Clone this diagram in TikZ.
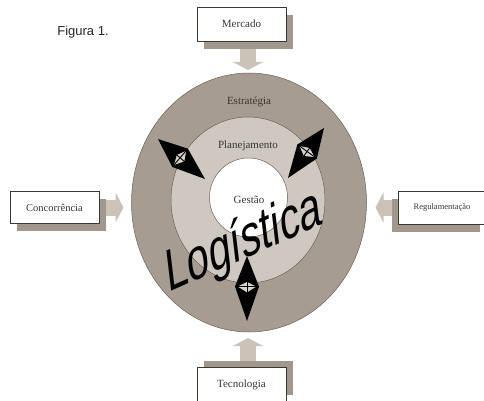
\documentclass[tikz,border=0pt]{standalone}
\usepackage{fontspec}
\setmainfont{Liberation Serif}
\newfontfamily\arialf{Liberation Sans}
\usetikzlibrary{shapes.geometric,arrows.meta,calc,shadows}
\definecolor{outerc}{HTML}{A69C91}
\definecolor{midc}{HTML}{CFC8C0}
\definecolor{shadc}{HTML}{A2978C}
\definecolor{barrc}{HTML}{CBC2B8}
\definecolor{linec}{HTML}{6A625A}
\definecolor{txtc}{HTML}{3A3632}
\definecolor{hollowc}{HTML}{D8D2CC}
\newcommand\dblarrow[2]{%
  \fill[black] (#1) -- ($(#1)!0.47!(#2)!12pt!90:(#2)$) -- (#2) -- ($(#1)!0.47!(#2)!12pt!-90:(#2)$) -- cycle;
  \filldraw[fill=hollowc, draw=black, line width=0.9pt] ($(#1)!0.39!(#2)$) -- ($(#1)!0.47!(#2)!10.5pt!90:(#2)$) -- ($(#1)!0.57!(#2)$) -- ($(#1)!0.47!(#2)!10.5pt!-90:(#2)$) -- cycle;
  \draw[black, line width=0.9pt] ($(#1)!0.39!(#2)$) -- ($(#1)!0.57!(#2)$) ($(#1)!0.47!(#2)!10.5pt!90:(#2)$) -- ($(#1)!0.47!(#2)!10.5pt!-90:(#2)$);
}
\begin{document}
\begin{tikzpicture}[x=1pt,y=-1pt,
  box/.style={draw=txtc, line width=0.6pt, fill=white, minimum width=89pt, minimum height=34pt, inner sep=0pt, outer sep=0pt, font=\fontsize{11}{12}\selectfont, text=txtc},
  ring/.style={ellipse, draw=linec, line width=0.5pt, inner sep=0pt, outer sep=0pt},
  barrow/.style={draw=barrc, line width=16pt, -{Triangle[width=30pt,length=8pt]}},
  lbl/.style={font=\fontsize{11}{12}\selectfont, text=txtc, inner sep=0pt}]
\useasboundingbox (0,0) rectangle (484,401);

\node[font=\arialf\fontsize{13}{14}\selectfont, text=black!85, inner sep=0pt] (fig) at (83,32) {Figura 1.};

% boxes
\node[box, drop shadow={shadow xshift=7pt, shadow yshift=-8pt, fill=shadc, opacity=1}] (mercado) at (241.5,24) {Mercado};
\node[box, drop shadow={shadow xshift=7pt, shadow yshift=7pt, fill=shadc, opacity=1}] (tecnologia) at (241.5,384.5) {Tecnologia};
\node[box, minimum height=32pt, font=\fontsize{10.5}{12}\selectfont, drop shadow={shadow xshift=7pt, shadow yshift=-7pt, fill=shadc, opacity=1}] (concorrencia) at (54.5,207.5) {Concorrência};
\node[box, minimum width=88pt, minimum height=33pt, font=\fontsize{8.5}{10}\selectfont, drop shadow={shadow xshift=-6pt, shadow yshift=-8pt, fill=shadc, opacity=1}] (regul) at (442,207.5) {Regulamentação};

% rings
\node[ring, fill=outerc, minimum width=235pt, minimum height=259pt] (outer) at (249,202.5) {};
\node[ring, fill=midc, minimum width=154pt, minimum height=166pt] (middle) at (248,200) {};
\node[ring, fill=white, minimum width=78pt, minimum height=79pt] (inner) at (248.5,197.5) {};

% block arrows
\draw[barrow] ([xshift=6.5pt,yshift=-8pt]mercado.south) -- ([xshift=-1pt,yshift=3pt]outer.north);
\draw[barrow] ([xshift=6.5pt,yshift=7pt]tecnologia.north) -- ([xshift=-1pt,yshift=-6pt]outer.south);
\draw[barrow] ([xshift=7pt]concorrencia.east) -- ([xshift=-8pt,yshift=-5pt]outer.west);
\draw[barrow] ([xshift=-6pt]regul.west) -- ([xshift=9pt,yshift=-5pt]outer.east);

% labels
\node[lbl] (estr) at (249,102) {Estratégia};
\node[lbl] (plan) at (248,146) {Planejamento};
\node[lbl] (gest) at (249,200) {Gestão};

% Logistica
\node[font=\arialf\fontsize{41}{41}\selectfont, text=black, anchor=base west, inner sep=0pt, cm={0.945,0.420,-0.17,1.42,(0,0)}] (logi) at (168,293) {Logística};

% double arrows
\coordinate (tla) at (158,139);
\coordinate (tlb) at (205,179);
\coordinate (tra) at (324,128);
\coordinate (trb) at (288,178);
\coordinate (bta) at (247,256);
\coordinate (btb) at (247,321);
\dblarrow{tla}{tlb}
\dblarrow{tra}{trb}
\dblarrow{bta}{btb}
\end{tikzpicture}
\end{document}
